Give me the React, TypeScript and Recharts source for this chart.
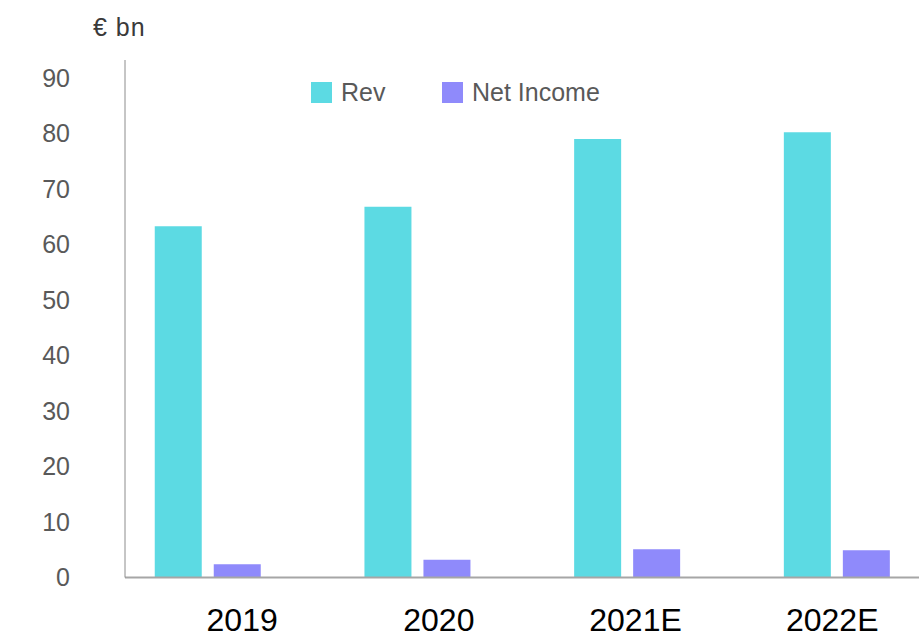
import React from 'react';
import { BarChart, Bar, XAxis, YAxis, Legend } from 'recharts';

const categories = ['2019', '2020', '2021E', '2022E'];
const revValues = [63.3, 66.8, 79.0, 80.2];
const netIncomeValues = [2.4, 3.2, 5.1, 4.9];
const yTicks = [0, 10, 20, 30, 40, 50, 60, 70, 80, 90];
const seriesNames = ['Rev', 'Net Income'];
const seriesColors = ['#5CDAE3', '#8F8AFB'];

const data = categories.map((c, i) => ({
  idx: i,
  category: c,
  rev: revValues[i],
  ni: netIncomeValues[i],
}));

const FONT = '"Liberation Sans", Arial, Helvetica, sans-serif';

const LegendContent = (props: any) => {
  const payload = [...(props.payload || [])].sort(
    (a: any, b: any) => seriesNames.indexOf(a.value) - seriesNames.indexOf(b.value)
  );
  return (
    <div style={{ display: 'flex', flexDirection: 'row', fontFamily: FONT, whiteSpace: 'nowrap', width: 320 }}>
      {payload.map((p: any) => (
        <div
          key={p.value}
          style={{ display: 'flex', alignItems: 'center', width: 131, height: 28, flexShrink: 0 }}
        >
          <div style={{ width: 21, height: 21, background: p.color, marginRight: 9, flexShrink: 0 }} />
          <span style={{ fontSize: 25, color: '#595959', lineHeight: '28px', whiteSpace: 'nowrap' }}>{p.value}</span>
        </div>
      ))}
    </div>
  );
};

export default function App() {
  return (
    <div style={{ position: 'absolute', left: 0, top: 0, width: 919, height: 638, background: '#fff' }}>
      <div
        style={{
          position: 'absolute',
          left: 93,
          top: 15,
          fontFamily: FONT,
          fontSize: 25,
          lineHeight: '25px',
          color: '#3a3a3a',
          letterSpacing: 1,
          whiteSpace: 'nowrap',
        }}
      >
        € bn
      </div>
      <BarChart
        width={919}
        height={638}
        data={data}
        margin={{ top: 60, right: 0, bottom: 0, left: 0 }}
        barGap={12}
        style={{ fontFamily: FONT }}
      >
        <XAxis
          xAxisId="bars"
          dataKey="idx"
          type="number"
          domain={[-0.3939, 3.3925]}
          allowDataOverflow
          height={0}
          hide
        />
        <XAxis
          xAxisId="labels"
          dataKey="idx"
          type="number"
          domain={[-0.5955, 3.4411]}
          allowDataOverflow
          ticks={[0, 1, 2, 3]}
          interval={0}
          tickFormatter={(v: number) => categories[v] ?? ''}
          height={60.5}
          tickLine={false}
          tickSize={0}
          tickMargin={31}
          axisLine={{ stroke: '#a6a6a6', strokeWidth: 2 }}
          tick={{ fill: '#000000', fontSize: 32, fontFamily: FONT }}
        />
        <YAxis
          type="number"
          domain={[0, 93.24]}
          allowDataOverflow
          ticks={yTicks}
          interval={0}
          width={125}
          tickLine={false}
          tickSize={0}
          tickMargin={55}
          axisLine={{ stroke: '#8c8c8c', strokeWidth: 1 }}
          tick={{ fill: '#595959', fontSize: 25, fontFamily: FONT }}
        />
        <Legend
          verticalAlign="middle"
          align="center"
          layout="horizontal"
          wrapperStyle={{ top: 78, left: 311, width: 320, height: 28 }}
          content={<LegendContent />}
        />
        <Bar
          xAxisId="bars"
          dataKey="rev"
          name={seriesNames[0]}
          fill={seriesColors[0]}
          barSize={47}
          isAnimationActive={false}
        />
        <Bar
          xAxisId="bars"
          dataKey="ni"
          name={seriesNames[1]}
          fill={seriesColors[1]}
          barSize={47}
          isAnimationActive={false}
        />
      </BarChart>
    </div>
  );
}
